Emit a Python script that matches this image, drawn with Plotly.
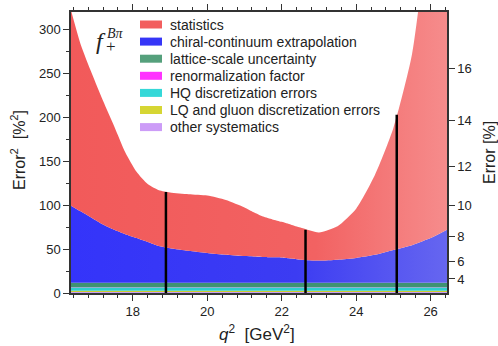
import plotly.graph_objects as go

# ---------------- data ----------------
q2 = [16.34, 16.6, 16.9, 17.2, 17.5, 17.8, 18.1, 18.4, 18.7, 19.0, 19.5, 20.0,
      20.5, 21.0, 21.25, 21.5, 21.75, 22.0, 22.25, 22.5, 23.0, 23.5, 24.0, 24.5,
      25.0, 25.5, 26.0, 26.44]

other_syst = [1.2] * len(q2)
lq_gluon = [1.4] * len(q2)
hq_disc = [3.6] * len(q2)
renorm = [0.3] * len(q2)
lattice_scale = [5.2] * len(q2)
chiral_cont = [87.8, 81.3, 73.8, 66.3, 60.3, 55.3, 50.8, 46.3, 41.8, 39.3, 36.3, 33.8,
               31.8, 30.3, 29.8, 29.3, 29.0, 28.8, 27.6, 26.3, 25.3, 26.3, 28.3, 31.8,
               37.3, 42.8, 50.8, 60.3]
statistics = [222.5, 190, 164.5, 141, 118, 93, 75.5, 66, 63.5, 63.5, 64.5, 65.5,
              62.5, 55.5, 50.5, 46, 43.1, 40.5, 38.5, 36.5, 32, 38, 56, 90.5,
              139, 217.5, 377.5, 528]

# vertical markers (q^2 position, total error^2)
mark_q2 = [18.89, 22.64, 25.09]
mark_top = [115, 72, 203]

legend_names = ["statistics", "chiral-continuum extrapolation", "lattice-scale uncertainty",
                "renormalization factor", "HQ discretization errors",
                "LQ and gluon discretization errors", "other systematics"]
legend_colors = ["#f25e5e", "#3636f7", "#55a07c", "#ff33ff", "#35d8d8", "#d6d633", "#cc9cf7"]

right_vals = [4, 6, 8, 10, 12, 14, 16]

# ---------------- figure ----------------
FONT = "Liberation Sans"
fig = go.Figure()

stack = [
    (other_syst, "#c79cf2"),
    (lq_gluon, "#cccc2e"),
    (hq_disc, "#2ecfcf"),
    (renorm, "#ff33ff"),
    (lattice_scale, "#3f9272"),
]
for vals, col in stack:
    fig.add_trace(go.Scatter(x=q2, y=vals, stackgroup="one", mode="lines",
                             line=dict(width=0), fillcolor=col, showlegend=False,
                             hoverinfo="skip"))

fig.add_trace(go.Scatter(x=q2, y=chiral_cont, stackgroup="one", mode="lines",
                         line=dict(width=0, shape="spline", smoothing=0.6), showlegend=False,
                         fillgradient=dict(type="horizontal",
                                           colorscale=[[0, "#3434fa"], [0.6, "#3c3cf2"], [1, "#6666f0"]]),
                         hoverinfo="skip"))
fig.add_trace(go.Scatter(x=q2, y=statistics, stackgroup="one", mode="lines",
                         line=dict(width=0, shape="spline", smoothing=0.6), showlegend=False,
                         fillgradient=dict(type="horizontal",
                                           colorscale=[[0, "#f25a5a"], [0.65, "#f26262"], [1, "#f68c8c"]]),
                         hoverinfo="skip"))

# vertical black markers
vx, vy = [], []
for xq, top in zip(mark_q2, mark_top):
    vx += [xq, xq, None]
    vy += [0, top, None]
fig.add_trace(go.Scatter(x=vx, y=vy, mode="lines", line=dict(color="black", width=2.5),
                         showlegend=False, hoverinfo="skip"))

# secondary axis carrier
fig.add_trace(go.Scatter(x=[q2[0]], y=[0], yaxis="y2", mode="markers",
                         marker=dict(opacity=0), showlegend=False, hoverinfo="skip"))

W, H = 498, 346
L, R, T, B = 71, 51, 12, 53
pw, ph = W - L - R, H - T - B


def px(xp):
    return (xp - L) / pw


def py(yp):
    return (H - B - yp) / ph


shapes = []
annotations = []
row0, dy = 24.5, 17.1
for i, (name, col) in enumerate(zip(legend_names, legend_colors)):
    yc = row0 + i * dy
    shapes.append(dict(type="rect", xref="paper", yref="paper",
                       x0=px(140), x1=px(162), y0=py(yc - 4), y1=py(yc + 4),
                       fillcolor=col, line=dict(width=0)))
    annotations.append(dict(text=name, xref="paper", yref="paper", x=px(168), y=py(yc),
                            xanchor="left", yanchor="middle", showarrow=False,
                            font=dict(family=FONT, size=14, color="#222")))

# f_+^{Bpi} label
annotations.append(dict(text="<i>f</i>", xref="paper", yref="paper", x=px(101), y=py(41),
                        xanchor="center", yanchor="middle", showarrow=False,
                        font=dict(family="Liberation Serif", size=24, color="#222")))
annotations.append(dict(text="<i>Bπ</i>", xref="paper", yref="paper", x=px(105), y=py(33),
                        xanchor="left", yanchor="middle", showarrow=False,
                        font=dict(family="Liberation Serif", size=14, color="#222")))
annotations.append(dict(text="+", xref="paper", yref="paper", x=px(104), y=py(46),
                        xanchor="left", yanchor="middle", showarrow=False,
                        font=dict(family="Liberation Serif", size=17, color="#222")))

# axis titles
annotations.append(dict(text="Error<sup>2</sup>  [%<sup>2</sup>]", xref="paper", yref="paper",
                        x=px(18), y=py(150), textangle=-90, showarrow=False,
                        xanchor="center", yanchor="middle",
                        font=dict(family=FONT, size=16, color="#222")))
annotations.append(dict(text="Error [%]", xref="paper", yref="paper",
                        x=px(489), y=py(153), textangle=-90, showarrow=False,
                        xanchor="center", yanchor="middle",
                        font=dict(family=FONT, size=16, color="#222")))
annotations.append(dict(text="<i>q</i><sup>2</sup>  [GeV<sup>2</sup>]", xref="paper", yref="paper",
                        x=px(257), y=py(333), showarrow=False,
                        xanchor="center", yanchor="middle",
                        font=dict(family="Liberation Sans", size=17, color="#222")))

axis_common = dict(showline=True, linecolor="#333", linewidth=1.5, ticks="outside",
                   tickcolor="#333", tickwidth=1.2, showgrid=False, zeroline=False,
                   automargin=False,
                   tickfont=dict(family=FONT, size=13, color="#222"))

fig.update_layout(
    width=W, height=H,
    margin=dict(l=L, r=R, t=T, b=B, pad=0, autoexpand=False),
    paper_bgcolor="white", plot_bgcolor="white",
    showlegend=False,
    xaxis=dict(range=[16.34, 26.44], tickvals=[18, 20, 22, 24, 26], ticklen=6,
               minor=dict(dtick=0.4, tick0=18, ticks="outside", ticklen=3, tickcolor="#333"),
               mirror="ticks", **axis_common),
    yaxis=dict(range=[0, 320], tickvals=[0, 50, 100, 150, 200, 250, 300], ticklen=6,
               minor=dict(dtick=25, tick0=0, ticks="outside", ticklen=3, tickcolor="#333"),
               **axis_common),
    yaxis2=dict(range=[0, 320], overlaying="y", side="right",
                tickvals=[v * v for v in right_vals], ticktext=[str(v) for v in right_vals],
                ticklen=6, **axis_common),
    shapes=shapes, annotations=annotations,
)

fig.write_html("out.html")
